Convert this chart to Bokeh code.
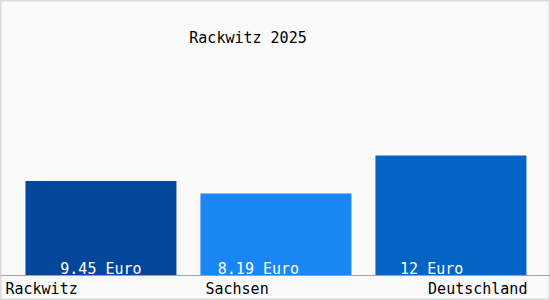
from bokeh.plotting import figure
from bokeh.models import Range1d, Label, Span, ColumnDataSource
from bokeh.embed import file_html
from bokeh.resources import INLINE

categories = ["Rackwitz", "Sachsen", "Deutschland"]
values = [9.45, 8.19, 12.0]
value_labels = ["9.45 Euro", "8.19 Euro", "12 Euro"]
colors = ["#03469A", "#1A86F4", "#0464C6"]
title_text = "Rackwitz 2025"

FONT = "DejaVu Sans Mono"
FS = "15px"

xs = list(range(len(categories)))
src = ColumnDataSource(dict(x=xs, top=values, color=colors))

p = figure(width=550, height=300, output_backend="svg", toolbar_location=None,
           x_range=Range1d(-0.574, 2.569), y_range=Range1d(-2.5, 27.5),
           min_border=0, min_border_left=0, min_border_right=0,
           min_border_top=0, min_border_bottom=0)
p.axis.visible = False
p.grid.visible = False
p.background_fill_color = "#FAFAFA"
p.border_fill_color = "#FAFAFA"
p.outline_line_color = "#D9D9D9"
p.outline_line_width = 2

p.vbar(x="x", top="top", bottom=0, width=151 / 175, color="color", source=src, line_width=0)

p.add_layout(Span(location=0, dimension="width", line_color="#A0A0A0", line_width=1))

# title
p.add_layout(Label(x=247.5, y=300 - 37.5, x_units="screen", y_units="screen", text=title_text,
                   text_font=FONT, text_font_size=FS, text_align="center",
                   text_baseline="middle", text_color="#000000"))

# value labels inside bars (offsets in data units relative to bar centre)
val_offsets = [0.0, -0.10, -0.11]
for i, (lab, off) in enumerate(zip(value_labels, val_offsets)):
    p.add_layout(Label(x=xs[i] + off, y=0.65, text=lab, text_font=FONT, text_font_size=FS,
                       text_align="center", text_baseline="middle", text_color="#FFFFFF"))

# category labels
cat_pos = [(xs[0] - 95.5 / 175, "left"), (xs[1] - 70.5 / 175, "left"), (xs[2] + 76.5 / 175, "right")]
for lab, (xp, al) in zip(categories, cat_pos):
    p.add_layout(Label(x=xp, y=-1.3, text=lab, text_font=FONT, text_font_size=FS,
                       text_align=al, text_baseline="middle", text_color="#000000"))

open("out.html", "w").write(file_html(p, INLINE))
